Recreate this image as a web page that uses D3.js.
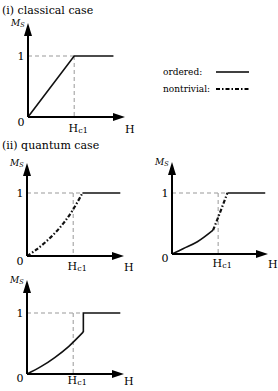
<!DOCTYPE html>
<html>
<head>
<meta charset="utf-8">
<script src="https://cdn.jsdelivr.net/npm/d3@7"></script>
<style>
  html, body { margin: 0; padding: 0; background: #fff; }
</style>
</head>
<body>
<svg id="viz"></svg>
<script>
// --- Data (H in units of Hc1, Ms in units of saturation) ---
const hc1 = 1;
const yTickLabels = ["0", "1"];

// (i) classical case
const classicalH = [0, 1, 1.85];
const classicalM = [0, 1, 1];

// (ii) quantum case, left: nontrivial all the way up
const qLeftNontrivH = [0, 0.2, 0.4, 0.6, 0.8, 1.0, 1.2];
const qLeftNontrivM = [0, 0.1, 0.22, 0.36, 0.53, 0.74, 1.0];
const qLeftPlateauH = [1.2, 2.02];
const qLeftPlateauM = [1, 1];

// (ii) quantum case, right: ordered then nontrivial
const qRightOrderedH = [0, 0.25, 0.55, 0.89];
const qRightOrderedM = [0, 0.09, 0.2, 0.39];
const qRightNontrivH = [0.89, 1.0, 1.2];
const qRightNontrivM = [0.39, 0.6, 1.0];
const qRightPlateauH = [1.2, 2.02];
const qRightPlateauM = [1, 1];

// (ii) quantum case, bottom: ordered with a jump
const qBottomOrderedH = [0, 0.3, 0.6, 0.9, 1.22];
const qBottomOrderedM = [0, 0.12, 0.27, 0.45, 0.69];
const qBottomJumpH = [1.22, 1.22, 2.02];
const qBottomJumpM = [0.69, 1, 1];

const width = 278;
const height = 391;
const serif = "DejaVu Serif, Liberation Serif, serif";

const svg = d3.select("#viz")
  .attr("width", width)
  .attr("height", height)
  .style("display", "block")
  .style("font-family", serif);

const dashDot = "4,2,1.5,2";

const zip = (hs, ms) => hs.map((h, i) => ({ h, m: ms[i] }));

// --- Panel builder ---
function drawPanel(p, series) {
  const x = d3.scaleLinear().domain([0, p.hMax]).range([p.ox, p.tipX]);
  const y = d3.scaleLinear().domain([0, 1]).range([p.oy, p.oy - p.yUnit]);
  const g = svg.append("g");

  // dashed guides
  g.append("line")
    .attr("x1", x(0)).attr("x2", x(p.hSat))
    .attr("y1", y(1)).attr("y2", y(1))
    .attr("stroke", "#999").attr("stroke-width", 1)
    .attr("stroke-dasharray", "4,3");
  g.append("line")
    .attr("x1", x(hc1)).attr("x2", x(hc1))
    .attr("y1", y(1)).attr("y2", y(0))
    .attr("stroke", "#999").attr("stroke-width", 1)
    .attr("stroke-dasharray", "4,3");

  // curves
  series.forEach(s => {
    const line = d3.line()
      .x(d => x(d.h))
      .y(d => y(d.m))
      .curve(s.smooth ? d3.curveCatmullRom.alpha(0.5) : d3.curveLinear);
    g.append("path")
      .attr("d", line(s.data))
      .attr("fill", "none")
      .attr("stroke", "#111")
      .attr("stroke-width", s.dash ? 2.2 : 1.6)
      .attr("stroke-dasharray", s.dash ? dashDot : null);
  });

  // axes
  g.append("line")
    .attr("x1", p.ox).attr("x2", p.tipX - 8)
    .attr("y1", p.oy).attr("y2", p.oy)
    .attr("stroke", "#000").attr("stroke-width", 2);
  g.append("path")
    .attr("d", `M${p.tipX},${p.oy} L${p.tipX - 12},${p.oy - 4} L${p.tipX - 12},${p.oy + 4} Z`)
    .attr("fill", "#000");
  g.append("line")
    .attr("x1", p.ox).attr("x2", p.ox)
    .attr("y1", p.oy).attr("y2", p.tipY + 8)
    .attr("stroke", "#000").attr("stroke-width", 2);
  g.append("path")
    .attr("d", `M${p.ox},${p.tipY} L${p.ox - 4},${p.tipY + 13} L${p.ox + 4},${p.tipY + 13} Z`)
    .attr("fill", "#000");

  // tick labels
  g.append("text")
    .attr("x", p.ox - 7).attr("y", y(0) + p.zeroDy)
    .attr("text-anchor", "middle").attr("font-size", 11)
    .text(yTickLabels[0]);
  g.append("text")
    .attr("x", p.ox - 7).attr("y", y(1) + 4)
    .attr("text-anchor", "middle").attr("font-size", 11)
    .text(yTickLabels[1]);

  const hc = g.append("text")
    .attr("x", x(hc1) + 4).attr("y", p.oy + p.labelDy)
    .attr("text-anchor", "middle").attr("font-size", 11);
  hc.append("tspan").text("H");
  hc.append("tspan").attr("font-size", 8).attr("dy", 1).text("c1");

  g.append("text")
    .attr("x", p.tipX).attr("y", p.oy + p.labelDy + 1)
    .attr("font-size", 11)
    .text("H");

  const ms = g.append("text")
    .attr("x", p.ox - 17).attr("y", p.tipY + 3)
    .attr("font-size", 9).attr("font-style", "italic");
  ms.append("tspan").text("M");
  ms.append("tspan").attr("font-size", 6.5).attr("dy", 1).text("S");
}

// --- Titles ---
svg.append("text").attr("x", 2).attr("y", 14).attr("font-size", 11)
  .text("(i) classical case");
svg.append("text").attr("x", 2).attr("y", 149).attr("font-size", 11)
  .text("(ii) quantum case");

// --- Panels ---
drawPanel({ ox: 28, oy: 117, tipX: 125, tipY: 23, hMax: 2.1, yUnit: 61, hSat: 1, zeroDy: 9, labelDy: 15 }, [
  { data: zip(classicalH, classicalM) }
]);

drawPanel({ ox: 27, oy: 256, tipX: 124, tipY: 163, hMax: 2.1, yUnit: 63, hSat: 1.2, zeroDy: 9, labelDy: 14 }, [
  { data: zip(qLeftNontrivH, qLeftNontrivM), dash: true, smooth: true },
  { data: zip(qLeftPlateauH, qLeftPlateauM) }
]);

drawPanel({ ox: 172, oy: 254, tipX: 268, tipY: 162, hMax: 2.08, yUnit: 61, hSat: 1.2, zeroDy: 8, labelDy: 13 }, [
  { data: zip(qRightOrderedH, qRightOrderedM), smooth: true },
  { data: zip(qRightNontrivH, qRightNontrivM), dash: true, smooth: true },
  { data: zip(qRightPlateauH, qRightPlateauM) }
]);

drawPanel({ ox: 27, oy: 374, tipX: 124, tipY: 280, hMax: 2.1, yUnit: 61, hSat: 1.22, zeroDy: 8, labelDy: 10 }, [
  { data: zip(qBottomOrderedH, qBottomOrderedM), smooth: true },
  { data: zip(qBottomJumpH, qBottomJumpM) }
]);

// --- Legend ---
const legend = svg.append("g");
legend.append("text").attr("x", 163).attr("y", 75).attr("font-size", 9).text("ordered:");
legend.append("line")
  .attr("x1", 216).attr("x2", 249).attr("y1", 72).attr("y2", 72)
  .attr("stroke", "#000").attr("stroke-width", 1.6);
legend.append("text").attr("x", 163).attr("y", 92).attr("font-size", 9).text("nontrivial:");
legend.append("line")
  .attr("x1", 216).attr("x2", 249).attr("y1", 89).attr("y2", 89)
  .attr("stroke", "#000").attr("stroke-width", 2.2)
  .attr("stroke-dasharray", dashDot);
</script>
</body>
</html>
